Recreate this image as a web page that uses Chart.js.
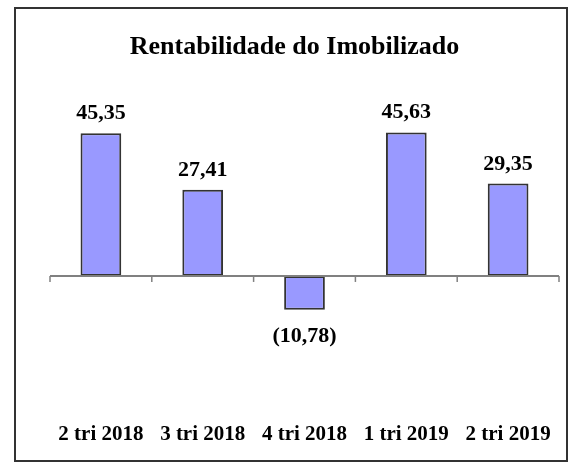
<!DOCTYPE html>
<html>
<head>
<meta charset="utf-8">
<script src="https://cdn.jsdelivr.net/npm/chart.js@4"></script>
<style>
  html, body { margin: 0; padding: 0; background: #fff; }
  #wrap { width: 575px; height: 468px; }
</style>
</head>
<body>
<div id="wrap"><canvas id="barChart"></canvas></div>
<script>
let categories = ["2 tri 2018", "3 tri 2018", "4 tri 2018", "1 tri 2019", "2 tri 2019"];
let values = [45.35, 27.41, -10.78, 45.63, 29.35];
let chartTitle = "Rentabilidade do Imobilizado";

function formatValue(v) {
	let s = Math.abs(v).toFixed(2).replace(".", ",");
	return v < 0 ? "(" + s + ")" : s;
}

// frame around the whole chart
let framePlugin = {
	id: "frame",
	beforeDraw(chart) {
		let ctx = chart.ctx;
		ctx.save();
		ctx.fillStyle = "#ffffff";
		ctx.fillRect(0, 0, chart.width, chart.height);
		ctx.strokeStyle = "#333333";
		ctx.lineWidth = 2;
		ctx.strokeRect(15, 8, chart.width - 23, chart.height - 15);
		ctx.restore();
	}
};

// zero line with tick marks between categories, plus value labels
let axisPlugin = {
	id: "zeroAxis",
	afterDatasetsDraw(chart) {
		let ctx = chart.ctx;
		let x = chart.scales.x;
		let y0 = chart.scales.y.getPixelForValue(0);
		let step = (x.right - x.left) / categories.length;
		ctx.save();
		ctx.strokeStyle = "#808080";
		ctx.lineWidth = 2;
		ctx.beginPath();
		ctx.moveTo(x.left, y0);
		ctx.lineTo(x.right, y0);
		ctx.stroke();
		ctx.lineWidth = 1.5;
		for (let i = 0; i <= categories.length; i++) {
			let px = x.left + i * step;
			ctx.beginPath();
			ctx.moveTo(px, y0);
			ctx.lineTo(px, y0 + 6);
			ctx.stroke();
		}

		ctx.fillStyle = "#000000";
		ctx.font = "bold 22px 'Liberation Serif', 'Times New Roman', serif";
		ctx.textAlign = "center";
		ctx.textBaseline = "alphabetic";
		chart.getDatasetMeta(0).data.forEach(function (bar, i) {
			let v = values[i];
			let ty = v >= 0 ? bar.y - 14 : bar.y + 32;
			ctx.fillText(formatValue(v), bar.x, ty);
		});
		ctx.restore();
	}
};

let data = {
	labels: categories,
	datasets: [
		{
			label: chartTitle,
			data: values,
			backgroundColor: "#9999FF",
			borderColor: "#333333",
			borderWidth: 2,
			borderSkipped: false,
			categoryPercentage: 1,
			barPercentage: 0.4
		}
	]
};

let options = {
	responsive: true,
	maintainAspectRatio: false,
	animation: false,
	layout: {
		padding: { top: 8, left: 30, right: 16, bottom: 1 }
	},
	plugins: {
		legend: { display: false },
		tooltip: { enabled: false },
		title: {
			display: true,
			text: chartTitle,
			color: "#000000",
			font: { family: "'Liberation Serif', 'Times New Roman', serif", size: 26, weight: "bold" },
			padding: { top: 24, bottom: 24 }
		}
	},
	scales: {
		x: {
			grid: { display: false, drawTicks: false },
			border: { display: false },
			ticks: {
				color: "#000000",
				padding: 20,
				maxRotation: 0,
				font: { family: "'Liberation Serif', 'Times New Roman', serif", size: 21, weight: "bold" }
			}
		},
		y: {
			display: true,
			min: -40,
			max: 60,
			grid: { display: false, drawTicks: false },
			border: { display: false },
			ticks: { display: false },
			afterFit(scale) {
				scale.width = 20;
			}
		}
	}
};

let ctx = document.getElementById("barChart").getContext("2d");
let barChart = new Chart(ctx, {
	type: "bar",
	data: data,
	options: options,
	plugins: [framePlugin, axisPlugin]
});
</script>
</body>
</html>
